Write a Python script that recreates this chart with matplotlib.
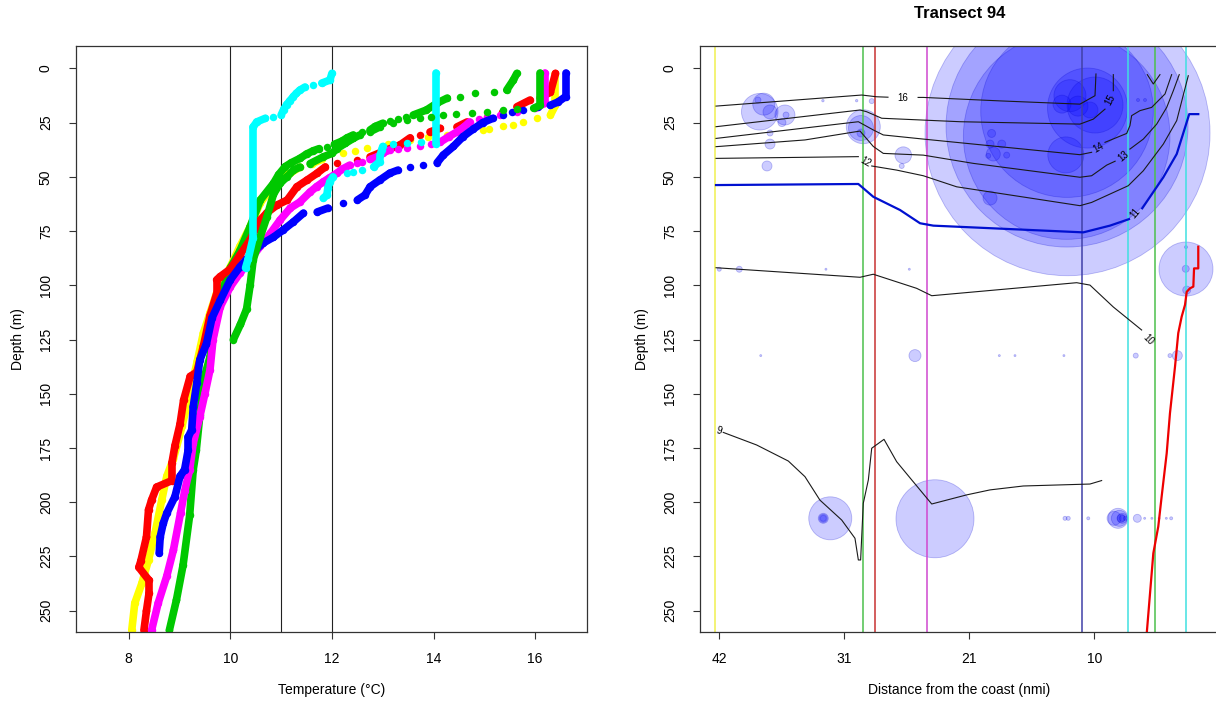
import numpy as np
import matplotlib
matplotlib.use("Agg")
import matplotlib.pyplot as plt
from matplotlib.collections import LineCollection

plt.rcParams['font.family'] = ['Liberation Sans', 'DejaVu Sans']
plt.rcParams['font.size'] = 10

nan = np.nan

# ---------------- left panel: temperature profiles (temp degC, depth m) ----------------
yellow_t = [16.4, 16.4, 16.3, 16.04, 15.77, 15.57, 15.37, 15.1, 14.97, 14.6, 14.27, 13.9, 13.54, 13.1,
            12.69, 12.45, 12.22, 11.8, 11.6, 11.37, 11.18, 10.92, 10.78, 10.59, 10.39, 10.19, 10.0, 9.86,
            9.73, 9.6, 9.47, 9.35, 9.2, 9.05, 8.88, 8.75, 8.65, 8.52, 8.39, 8.26, 8.12, 8.06]
yellow_d = [2.5, 17, 21.5, 23, 24.7, 26, 26.8, 28, 28.6, 29.6, 30.8, 31.8, 33, 35,
            36.8, 38, 39, 42, 44, 45.5, 48.3, 51.5, 56, 62, 73, 82, 91.5, 97.5,
            103.6, 112.8, 122, 135, 150, 165, 180, 188, 199, 214, 226.6, 237.3, 246.5, 259]

green1_t = [15.64, 15.57, 15.44, 15.18, 14.82, 14.52, 14.27, 14.07, 13.86, 13.6, 13.45, 13.3, 13.15, 13.0,
            12.85, 12.75, 12.6, 12.42, 12.3, 12.2, 12.05, 11.9, 11.75, 11.63, 11.5, 11.37, 11.2, 11.08,
            10.95, 10.85, 10.59, 10.39, 10.19, 10.0, 9.85, 9.7, 9.6, 9.47, 9.4, 9.33, 9.27, 9.2, 9.07,
            8.94, 8.8]
green1_d = [2.3, 5.4, 10, 10.9, 11.5, 13, 13.7, 16, 19.2, 21.5, 22.5, 23.5, 24.3, 25.3,
            26.8, 28.4, 29.5, 30.7, 32, 33.5, 35, 36.1, 37, 38, 39.5, 41.5, 43.5, 45.3,
            49, 53, 60.7, 73, 84, 92, 102, 118, 133, 144, 160, 176, 185, 206, 229,
            245, 259]

red_t = [16.4, 16.3, 16.1, 15.9, 15.64, 15.35, 15.05, 14.66, 14.46, 14.13, 13.93, 13.74, 13.54, 13.34,
         13.08, 12.75, 12.5, 12.1, 11.87, 11.71, 11.51, 11.31, 11.12, 10.92, 10.72, 10.59, 10.39, 10.19,
         10.0, 9.8, 9.73, 9.73, 9.6, 9.47, 9.34, 9.21, 9.08, 9.01, 8.91, 8.85, 8.85, 8.55, 8.45, 8.39,
         8.35, 8.24, 8.2, 8.4, 8.4, 8.35, 8.3]
red_d = [2.3, 11, 13.5, 14.6, 17.7, 20, 22.4, 24.7, 27, 27.6, 29.3, 30.8, 32, 35.3,
         37.6, 40.8, 42.3, 43.7, 45.4, 48.3, 51.5, 54.6, 60.7, 63, 66.6, 69.9, 79, 86,
         92.5, 96, 97.5, 104, 114, 128, 140, 142, 153, 164, 174, 182, 190, 193, 199, 203.5,
         216, 227, 230, 236, 242, 250, 259]

magenta_t = [16.2, 16.2, 16.0, 15.64, 15.3, 15.05, 14.9, 14.71, 14.6, 14.46, 14.3, 14.13, 13.95, 13.74,
             13.48, 13.3, 13.14, 13.0, 12.89, 12.75, 12.6, 12.5, 12.35, 12.2, 12.1, 11.95, 11.83, 11.7,
             11.57, 11.37, 11.18, 10.98, 10.79, 10.59, 10.39, 10.19, 10.0, 9.8, 9.66, 9.6, 9.5, 9.4,
             9.27, 9.2, 9.1, 9.02, 8.88, 8.75, 8.58, 8.45]
magenta_d = [2.3, 16, 18.3, 20, 21.5, 22.4, 23.5, 24.7, 27, 29.3, 31.5, 34, 35, 36,
             36.8, 37.2, 37.6, 39, 40.8, 42, 43, 43.8, 44.6, 46.5, 48.3, 50.5, 52.3, 54.5,
             57, 61.6, 64.4, 69.9, 76, 82, 88.3, 94.4, 100.7, 110, 125, 139, 150, 160.5,
             172.8, 185, 195, 205, 222, 234, 246.5, 259]

blue_t = [16.6, 16.6, 16.45, 16.3, 16.05, 15.77, 15.55, 15.37, 15.17, 14.97, 14.78, 14.58, 14.39, 14.19,
          14.07, 13.8, 13.54, 13.3, 13.14, 12.94, 12.75, 12.65, 12.5, 12.22, 11.92, 11.71, 11.44, 11.24,
          11.04, 10.85, 10.65, 10.43, 10.19, 10.0, 9.8, 9.64, 9.53, 9.4, 9.34, 9.27, 9.24, 9.17, 9.17,
          9.1, 9.01, 8.91, 8.75, 8.68, 8.62, 8.6]
blue_d = [2.2, 13, 15.5, 17, 18, 19, 20, 21.5, 23, 25, 28, 31.5, 36, 40,
          43.5, 44.6, 45.6, 46.9, 48.3, 51.5, 54.6, 58.4, 60.7, 62, 64.4, 66.2, 66.7, 70.8,
          74.5, 77.8, 80.5, 85, 91.5, 97.5, 107, 115, 127, 134.4, 145, 156, 166.7, 170, 176,
          185, 188, 197.4, 205, 209.7, 216, 223.5]

cyan2_t = [14.05, 14.05, 13.75, 13.48, 13.2, 13.0, 12.98, 12.95, 12.94, 12.82, 12.6, 12.42, 12.3, 12.02,
           11.96, 11.92, 11.9, 11.83]
cyan2_d = [2, 35, 34, 34.5, 35, 36, 37.6, 40, 43, 45.4, 47, 47.8, 48.3, 50,
           52.3, 55, 58.4, 59.8]

green2_t = [16.1, 16.1, 15.97, 15.65, 15.37, 15.05, 14.75, 14.45, 14.19, 13.95, 13.73, 13.47, 13.21, 12.95,
            12.75, 12.55, 12.42, 12.26, 12.1, 12.0, 11.83, 11.57, 11.37, 11.24, 11.11, 10.98, 10.85,
            10.72, 10.59, 10.45, 10.39, 10.32, 10.2, 10.06]
green2_d = [2.3, 17, 18.4, 18.8, 19.2, 20, 20.7, 21.2, 21.5, 22.3, 23, 23.8, 25.3, 26.9,
            29.2, 30.7, 32.3, 34.6, 37, 39.2, 40.8, 43.9, 45.5, 47, 50.1, 53, 58,
            68.5, 77.6, 88.3, 100, 111, 118, 125]

cyan1_t = [12.0, 11.96, 11.8, 11.63, 11.47, 11.37, 11.3, 11.24, 11.17, 11.11, 11.05, 11.0, 10.85, 10.69,
           10.52, 10.45, 10.45, 10.35, 10.3]
cyan1_d = [2.3, 5.4, 6.8, 7.7, 8.6, 10, 11.5, 13, 15, 16.7, 19, 21.5, 22.4, 23,
           24.7, 27, 78, 88, 92]

ref_temps = [10, 11, 12]
temp_ticks = [8, 10, 12, 14, 16]
depth_ticks = [0, 25, 50, 75, 100, 125, 150, 175, 200, 225, 250]

# ---------------- right panel: transect (distance nmi, depth m) ----------------
station_x = [41.86, 29.6, 28.58, 24.26, 11.38, 7.58, 5.37, 2.77]
station_col = ['#f0f050', '#4cc04c', '#c83232', '#d048d0', '#4040a8', '#40e0e0', '#4cc04c', '#40e0e0']

bub_x = [12.6, 12.64, 12.67, 12.64, 10.94, 10.32, 12.4, 11.73, 10.74, 13.06, 12.74,
         18.9, 19.03, 18.06, 18.76, 19.18, 17.65, 19.03, 6.75, 6.17,
         38.14, 37.81, 37.29, 36.05, 35.96, 36.3, 37.29, 37.29, 37.54, 38.29, 32.9, 30.1, 28.85,
         29.55, 29.74, 29.74, 26.23, 26.36,
         41.5, 39.84, 32.65, 25.73, 2.77, 2.79, 2.71, 2.77,
         38.06, 25.26, 18.26, 16.96, 12.9, 6.94, 3.49, 4.1,
         32.29, 32.87, 32.87, 23.6, 8.41, 8.74, 8.06, 8.06, 7.8, 12.81, 12.54, 10.88, 6.81,
         6.2, 5.6, 5.0, 4.4, 4.0, 8.3, 8.15, 32.87]
bub_d = [29.9, 26.6, 31.2, 19.7, 18.3, 16.9, 12.6, 17.4, 19.2, 16.5, 39.9,
         30.0, 34.9, 34.9, 39.5, 40.3, 40.0, 59.8, 14.6, 14.6,
         20.0, 16.5, 20.1, 21.5, 21.5, 25.0, 29.8, 34.9, 45.0, 14.6, 14.9, 14.9, 15.1,
         26.9, 27.5, 29.8, 40.0, 45.0,
         92.6, 92.6, 92.6, 92.6, 92.5, 92.4, 102.2, 82.4,
         132.4, 132.4, 132.4, 132.4, 132.4, 132.4, 132.4, 132.4,
         207.4, 207.4, 207.4, 207.6, 207.4, 207.4, 207.4, 207.4, 207.4, 207.4, 207.4, 207.4, 207.4,
         207.4, 207.4, 207.4, 207.4, 207.4, 207.4, 207.4, 207.4]
bub_r = [142.5, 121, 103.3, 86.3, 40, 28, 16, 10, 8, 9, 18,
         4, 4, 4, 7, 2.5, 3, 7, 1.5, 1.5,
         18.3, 11, 7, 10, 3, 4, 3, 5, 5, 3, 1.2, 1.2, 2.5,
         17, 12.5, 4, 8.3, 2.5,
         2, 3, 1, 1, 27, 3.5, 4, 1.5,
         1, 6, 1, 1, 1, 2.5, 5, 2,
         21.5, 5, 3, 39, 10, 7, 5, 3, 2, 2, 2, 1.5, 4,
         1, 1, 1, 1, 1.5, 8, 4, 4]

iso16_x = [41.77, 29.68, 28.44, 27.5, nan, 25.0, 24.57, 18.2, 11.57, 10.32, 10.24]
iso16_d = [17.4, 12.3, 13.1, 13.3, nan, 13.4, 13.4, 15.0, 16.5, 12.6, 2.6]
iso15_x = [41.77, 29.82, 29.27, 28.02, 21.52, 11.57, 10.46, 9.49, nan, 8.8, 8.8]
iso15_d = [26.9, 19.2, 20.0, 23.0, 24.6, 25.7, 23.4, 18.8, nan, 10.3, 2.9]
iso14_x = [41.77, 29.96, 28.72, 27.89, 24.57, 11.57, 10.6, nan, 9.49, 7.69, 7.42, 7.28, 6.59, 5.62, 4.51, 3.96]
iso14_d = [32.3, 24.6, 28.4, 30.7, 32.6, 39.8, 38.7, nan, 34.1, 30.0, 26.4, 21.8, 19.5, 18.0, 11.8, 2.9]
iso14b_x = [5.98, 5.48, 4.93]
iso14b_d = [2.9, 7.2, 2.9]
iso13_x = [41.77, 34.39, 29.82, 28.72, 27.89, 24.57, 20.42, 11.57, 10.6, 9.35, 8.65, nan, 7.42, 6.31, 5.2, 4.37, 3.82, 3.33]
iso13_d = [36.1, 33.0, 28.9, 36.0, 39.2, 40.0, 43.8, 50.2, 49.5, 44.6, 42.8, nan, 37.2, 32.6, 25.7, 18.0, 10.3, 2.9]
iso12_x = [41.77, 29.96, nan, 28.85, 26.78, 24.57, 21.8, 11.57, 10.6, 7.56, 6.31, 4.65, 3.54, 2.58]
iso12_d = [41.5, 40.7, nan, 45.0, 46.9, 49.5, 54.6, 63.3, 61.8, 54.1, 47.2, 34.9, 24.1, 3.4]
iso11_x = [41.77, 29.96, 28.72, 26.5, 24.84, 23.74, 11.29, 9.08, 7.5, nan, 6.4, 4.65, 3.54, 2.5, 1.75]
iso11_d = [53.8, 53.3, 59.2, 65.3, 71.4, 72.5, 75.6, 72.5, 69.5, nan, 64.5, 50.2, 39.5, 21.1, 21.1]
iso10_x = [41.77, 29.82, 28.72, 25.12, 23.87, 11.84, 10.74, 8.8, 6.45]
iso10_d = [91.9, 96.3, 94.9, 101.4, 104.8, 98.8, 99.9, 110.0, 120.6]
iso9_x = [41.17, 38.4, 35.77, 34.39, 33.15, 31.34, 30.24, 29.96, 29.77, 29.55, 29.13, 28.85, 27.83,
          26.78, 25.53, 23.87, 20.97, 19.03, 16.27, 10.74, 9.77]
iso9_d = [167.8, 173.6, 181.0, 188.2, 199.0, 208.2, 216.6, 226.6, 226.6, 200.5, 189.7, 175.1, 171.0,
          181.3, 189.7, 200.8, 196.6, 194.3, 192.5, 191.6, 190.0]

# contour labels: text, x, depth, rotation
clab_txt = ['16', '15', '14', '13', '12', '11', '10', '9']
clab_x = [26.26, 9.1, 10.05, 7.97, 29.4, 6.95, 5.9, 41.55]
clab_d = [13.5, 14.3, 36.4, 40.3, 43.0, 67.0, 125.0, 167.0]
clab_rot = [0, 62, 30, 40, -30, 50, -45, -15]

redline_x = [1.75, 1.75, 2.1, 2.16, 2.44, 2.71, 2.85, 3.13, 3.41, 3.68, 4.1, 4.37, 4.79, 5.07, 5.48, 6.05]
redline_d = [82.2, 92.2, 92.2, 100.6, 101.4, 103.0, 109.0, 114.5, 122.0, 137.5, 159.0, 177.4, 197.4, 211.2, 223.5, 262.0]

dist_ticks = [41.5, 31.13, 20.76, 10.38]
dist_labels = ['42', '31', '21', '10']

# ---------------- figure ----------------
fig = plt.figure(figsize=(12.16, 7.06), dpi=100)
ax1 = fig.add_axes([76 / 1216, 1 - 632 / 706, 511 / 1216, 586 / 706])
ax2 = fig.add_axes([700 / 1216, 1 - 632 / 706, 519 / 1216, 586 / 706])


def profile(ax, t, d, color):
    t = np.asarray(t, float)
    d = np.asarray(d, float)
    # points that sit close together merge into a thick trace, steep steps stay as dots
    steep = np.abs(np.diff(t)) > 0.12 * np.maximum(np.abs(np.diff(d)), 1e-6)
    segs = [[(t[i], d[i]), (t[i + 1], d[i + 1])] for i in range(len(t) - 1) if not steep[i]]
    ax.add_collection(LineCollection(segs, colors=color, linewidths=5.5,
                                     capstyle='round', joinstyle='round'))
    ax.plot(t, d, 'o', color=color, ms=5.4, mec='none')


for x in ref_temps:
    ax1.axvline(x, color='#222222', lw=0.8)

profile(ax1, yellow_t, yellow_d, '#ffff00')
profile(ax1, green1_t, green1_d, '#00c800')
profile(ax1, red_t, red_d, '#ff0000')
profile(ax1, magenta_t, magenta_d, '#ff00ff')
profile(ax1, blue_t, blue_d, '#0000ff')
profile(ax1, cyan2_t, cyan2_d, '#00ffff')
profile(ax1, green2_t, green2_d, '#00c800')
profile(ax1, cyan1_t, cyan1_d, '#00ffff')

ax1.set_xlim(6.963, 17.02)
ax1.set_ylim(259.8, -10.3)
ax1.set_xticks(temp_ticks)
ax1.set_yticks(depth_ticks)
ax1.set_xlabel('Temperature (°C)')
ax1.set_ylabel('Depth (m)')
ax1.xaxis.set_label_coords(0.5, -0.087)
ax1.yaxis.set_label_coords(-0.1, 0.5)

# right panel
s = (1.44 * np.asarray(bub_r)) ** 2
ax2.scatter(bub_x, bub_d, s=s, facecolor=(0, 0, 1, 0.2), edgecolor=(0, 0, 0.8, 0.25), linewidths=0.6, zorder=1)
for x, c in zip(station_x, station_col):
    ax2.axvline(x, color=c, lw=1.1, zorder=2)

for xs, ds in [(iso16_x, iso16_d), (iso15_x, iso15_d), (iso14_x, iso14_d), (iso14b_x, iso14b_d),
               (iso13_x, iso13_d), (iso12_x, iso12_d), (iso10_x, iso10_d), (iso9_x, iso9_d)]:
    ax2.plot(xs, ds, color='#1a1a1a', lw=0.8, zorder=3)
ax2.plot(iso11_x, iso11_d, color='#0010d0', lw=1.6, zorder=3)
for txt, x, d, r in zip(clab_txt, clab_x, clab_d, clab_rot):
    ax2.text(x, d, txt, fontsize=7, rotation=r, ha='center', va='center', zorder=4)

ax2.plot(redline_x, redline_d, color='#ee0000', lw=1.6, zorder=3)

ax2.set_xlim(43.1, 0.03)
ax2.set_ylim(259.8, -10.3)
ax2.set_xticks(dist_ticks)
ax2.set_xticklabels(dist_labels)
ax2.set_yticks(depth_ticks)
ax2.set_xlabel('Distance from the coast (nmi)')
ax2.set_ylabel('Depth (m)')
ax2.xaxis.set_label_coords(0.5, -0.087)
ax2.yaxis.set_label_coords(-0.0985, 0.5)

for ax in (ax1, ax2):
    for sp in ax.spines.values():
        sp.set_color('#333333')
        sp.set_linewidth(0.9)
    ax.tick_params(axis='both', length=4.7, width=0.8, color='#333333', labelsize=10)
    ax.tick_params(axis='x', pad=10)
    ax.tick_params(axis='y', pad=12, labelrotation=90)
    for lbl in ax.get_yticklabels():
        lbl.set_va('center')

fig.text(960 / 1216, 1 - 13 / 706, 'Transect 94', ha='center', va='center', fontsize=12, fontweight='bold')

fig.savefig('out.png', dpi=100)
